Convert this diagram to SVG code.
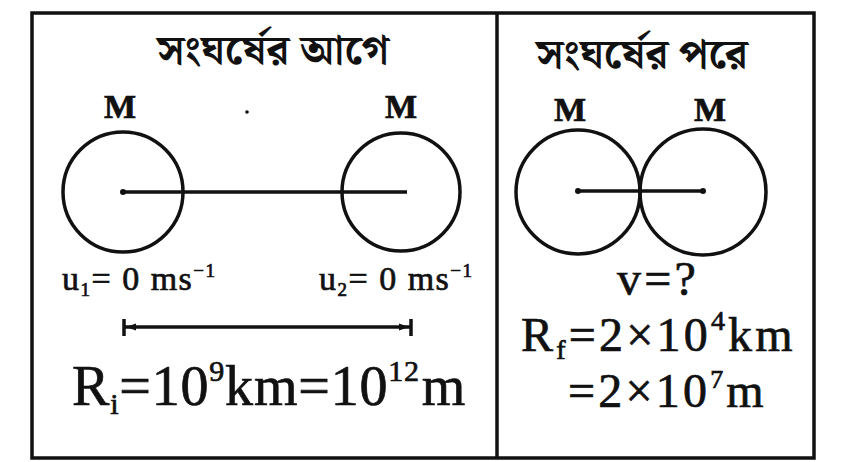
<svg xmlns="http://www.w3.org/2000/svg" width="846" height="462" viewBox="0 0 846 462">
<style>
.frame{fill:none;stroke:#111;stroke-width:3.5}
.ball{fill:none;stroke:#111;stroke-width:3.5}
.rod{stroke:#111;stroke-width:3.5;fill:none}
.t{font-family:"Liberation Serif","Times New Roman",serif;fill:#111;stroke:#111;stroke-width:0.7}
.bn{font-family:"Noto Serif Bengali","Noto Sans Bengali","Lohit Bengali","FreeSerif","Noto Sans",sans-serif;fill:#111;font-size:42px;font-weight:bold;text-anchor:middle}
.m{font-size:34px;font-weight:bold;text-anchor:middle}
.u{font-size:34px;letter-spacing:1.5px}
.big{font-size:56px;letter-spacing:0.8px}
.mid{font-size:48px;letter-spacing:3.2px}
</style>
<defs>
<marker id="dot" viewBox="0 0 10 10" refX="5" refY="5" markerWidth="10" markerHeight="10" markerUnits="userSpaceOnUse" orient="auto">
<circle cx="5" cy="5" r="3" fill="#111"/>
</marker>
</defs>
<rect fill="#fff" x="0" y="0" width="846" height="462"/>
<g id="frame">
<rect class="frame" x="32" y="13" width="782" height="445"/>
<line class="frame" x1="497" y1="13" x2="497" y2="458"/>
</g>
<g id="before">
<text class="bn" x="273" y="64">সংঘর্ষের আগে</text>
<text class="t m" x="120" y="118">M</text>
<text class="t m" x="401" y="118">M</text>
<circle cx="247" cy="112" r="1.8" fill="#111"/>
<circle class="ball" cx="123" cy="192" r="60"/>
<circle class="ball" cx="401" cy="192" r="59"/>
<text class="t u" x="62" y="290">u<tspan font-size="19" dy="6">1</tspan><tspan dy="-6">= 0 ms</tspan><tspan font-size="19" dy="-13">−1</tspan></text>
<text class="t u" x="319" y="290">u<tspan font-size="19" dy="6">2</tspan><tspan dy="-6">= 0 ms</tspan><tspan font-size="19" dy="-13">−1</tspan></text>
<text class="t big" x="72" y="405">R<tspan font-size="30" dy="9">i</tspan><tspan dy="-9">=10</tspan><tspan font-size="30" dy="-24">9</tspan><tspan dy="24">km=10</tspan><tspan font-size="30" dy="-24">12</tspan><tspan dy="24" dx="2">m</tspan></text>
</g>
<g id="after">
<text class="bn" x="642" y="68">সংঘর্ষের পরে</text>
<text class="t m" x="570" y="121">M</text>
<text class="t m" x="710" y="121">M</text>
<circle class="ball" cx="578" cy="192" r="62"/>
<circle class="ball" cx="703" cy="192" r="63"/>
<text class="t mid" x="658" y="295" text-anchor="middle" font-size="52">v=?</text>
<text class="t mid" x="521" y="351">R<tspan font-size="28" dy="8">f</tspan><tspan dy="-8">=2×10</tspan><tspan font-size="28" dy="-21">4</tspan><tspan dy="21">km</tspan></text>
<text class="t mid" x="568" y="407">=2×10<tspan font-size="26" dy="-19">7</tspan><tspan dy="19">m</tspan></text>
</g>
<g id="connectors">
<line class="rod" x1="123" y1="192" x2="407" y2="192" marker-start="url(#dot)"/>
<line class="rod" x1="578" y1="191" x2="703" y2="191" marker-start="url(#dot)" marker-end="url(#dot)"/>
<line class="rod" x1="124" y1="327" x2="411" y2="327"/>
<line class="rod" x1="124" y1="319" x2="124" y2="336"/>
<line class="rod" x1="411" y1="319" x2="411" y2="336"/>
<polygon points="126,327 136,323.5 136,330.5" fill="#111"/>
<polygon points="409,327 399,323.5 399,330.5" fill="#111"/>
</g>
</svg>
